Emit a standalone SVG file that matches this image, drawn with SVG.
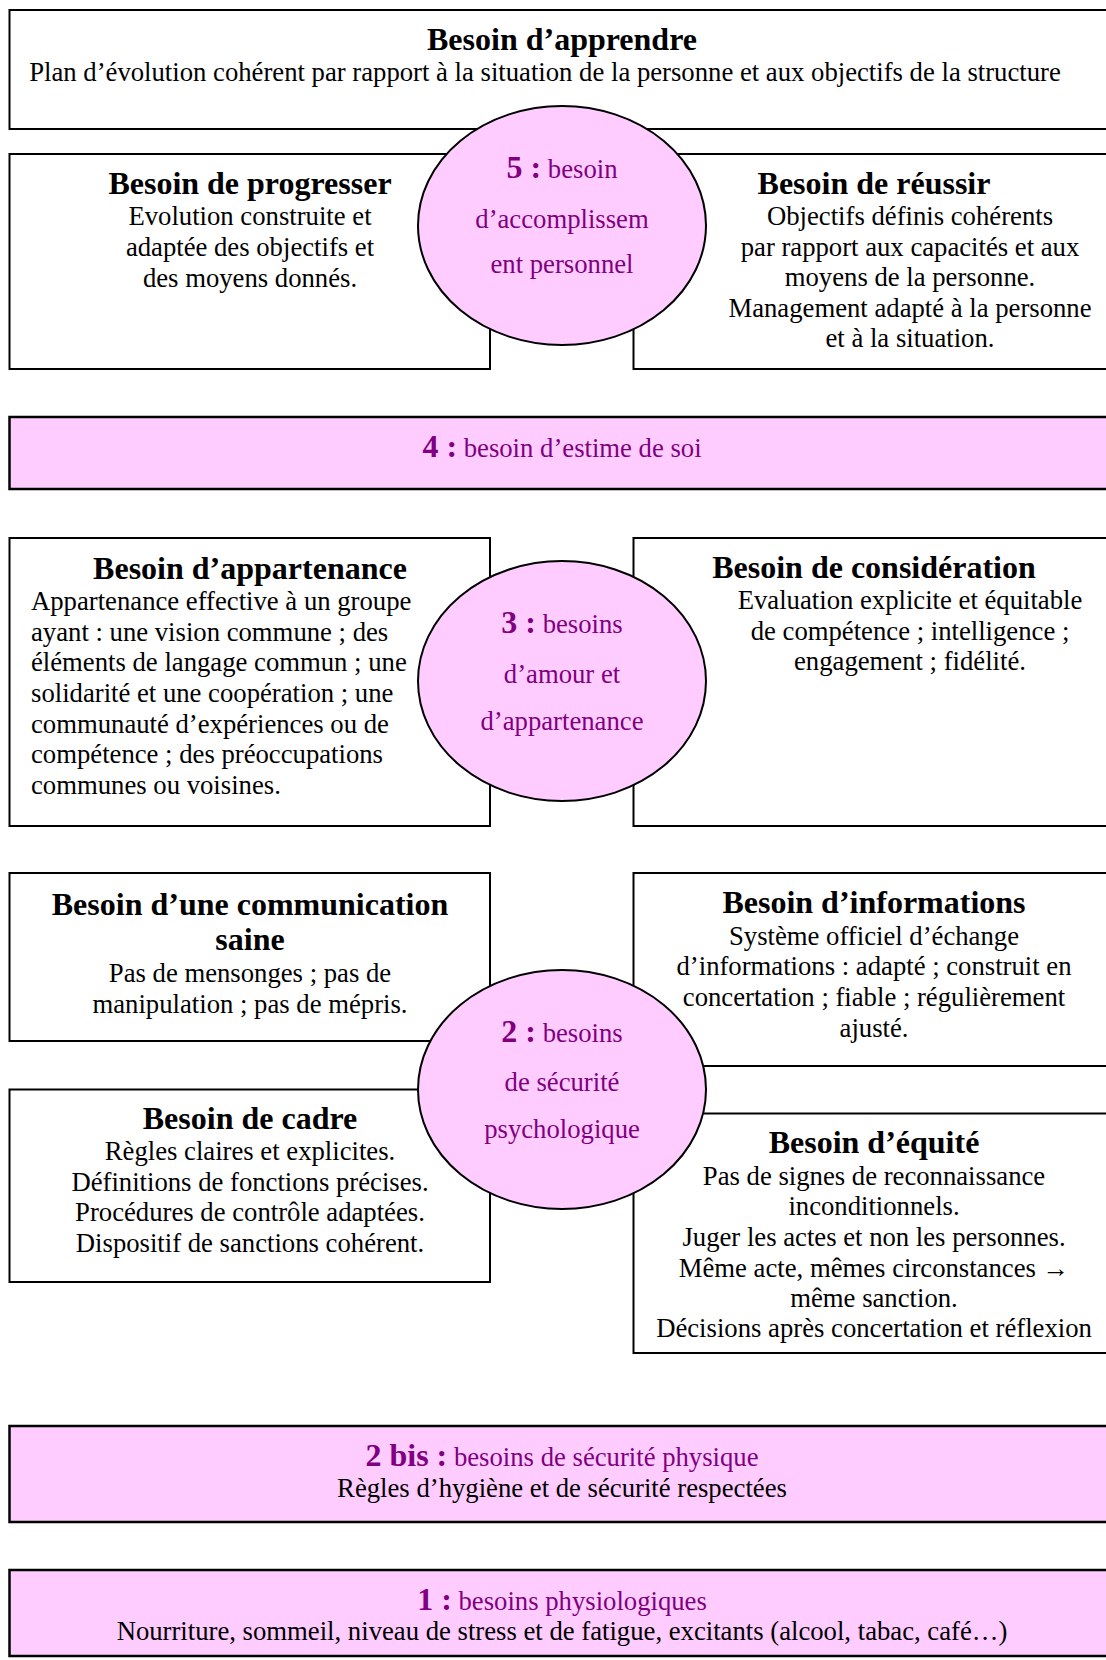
<svg xmlns="http://www.w3.org/2000/svg" width="1106" height="1660" viewBox="0 0 1106 1660">
<style>
text{font-family:"Liberation Serif","Times New Roman",serif;fill:#000}
.t{font-size:32px;font-weight:bold;text-anchor:middle}
.b{font-size:26.7px;text-anchor:middle}
.l{font-size:26.7px;text-anchor:start}
.p{fill:#800080}
.n{font-size:32px;font-weight:bold;fill:#800080}
.box{fill:#fff;stroke:#000;stroke-width:2}
.pbox{fill:#FFCCFF;stroke:#000;stroke-width:2.5}
.ell{fill:#FFCCFF;stroke:#000;stroke-width:2}
</style>
<rect width="1106" height="1660" fill="#fff"/>
<g id="apprendre">
<rect class="box" x="9.5" y="10" width="1110" height="119"/>
<text class="t" x="562" y="50">Besoin d’apprendre</text>
<text class="b" x="545" y="81">Plan d’évolution cohérent par rapport à la situation de la personne et aux objectifs de la structure</text>
</g>
<g id="progresser">
<rect class="box" x="9.5" y="154" width="480.5" height="215"/>
<text class="t" x="250" y="194">Besoin de progresser</text>
<text class="b" x="250" y="225">Evolution construite et</text>
<text class="b" x="250" y="256">adaptée des objectifs et</text>
<text class="b" x="250" y="287">des moyens donnés.</text>
</g>
<g id="reussir">
<rect class="box" x="633.5" y="154" width="490" height="215"/>
<text class="t" x="874" y="194">Besoin de réussir</text>
<text class="b" x="910" y="225">Objectifs définis cohérents</text>
<text class="b" x="910" y="255.5">par rapport aux capacités et aux</text>
<text class="b" x="910" y="286">moyens de la personne.</text>
<text class="b" x="910" y="316.5">Management adapté à la personne</text>
<text class="b" x="910" y="347">et à la situation.</text>
</g>
<g id="besoin5">
<ellipse class="ell" cx="562" cy="225.5" rx="144" ry="119.5"/>
<text class="b p" x="562" y="178"><tspan class="n">5 :</tspan> besoin</text>
<text class="b p" x="562" y="228">d’accomplissem</text>
<text class="b p" x="562" y="273">ent personnel</text>
</g>
<g id="besoin4">
<rect class="pbox" x="9.5" y="417" width="1110" height="72"/>
<text class="b p" x="562" y="457"><tspan class="n">4 :</tspan> besoin d’estime de soi</text>
</g>
<g id="appartenance">
<rect class="box" x="9.5" y="538" width="480.5" height="288"/>
<text class="t" x="250" y="579">Besoin d’appartenance</text>
<text class="l" x="31" y="610">Appartenance effective à un groupe</text>
<text class="l" x="31" y="640.7">ayant : une vision commune ; des</text>
<text class="l" x="31" y="671.4">éléments de langage commun ; une</text>
<text class="l" x="31" y="702">solidarité et une coopération ; une</text>
<text class="l" x="31" y="732.7">communauté d’expériences ou de</text>
<text class="l" x="31" y="763.4">compétence ; des préoccupations</text>
<text class="l" x="31" y="794">communes ou voisines.</text>
</g>
<g id="consideration">
<rect class="box" x="633.5" y="538" width="490" height="288"/>
<text class="t" x="874" y="578">Besoin de considération</text>
<text class="b" x="910" y="609">Evaluation explicite et équitable</text>
<text class="b" x="910" y="639.5">de compétence ; intelligence ;</text>
<text class="b" x="910" y="670">engagement ; fidélité.</text>
</g>
<g id="besoin3">
<ellipse class="ell" cx="562" cy="681" rx="144" ry="120"/>
<text class="b p" x="562" y="633"><tspan class="n">3 :</tspan> besoins</text>
<text class="b p" x="562" y="683">d’amour et</text>
<text class="b p" x="562" y="730">d’appartenance</text>
</g>
<g id="communication">
<rect class="box" x="9.5" y="873" width="480.5" height="168"/>
<text class="t" x="250" y="915">Besoin d’une communication</text>
<text class="t" x="250" y="950">saine</text>
<text class="b" x="250" y="982">Pas de mensonges ; pas de</text>
<text class="b" x="250" y="1013">manipulation ; pas de mépris.</text>
</g>
<g id="cadre">
<rect class="box" x="9.5" y="1089.5" width="480.5" height="192.5"/>
<text class="t" x="250" y="1129">Besoin de cadre</text>
<text class="b" x="250" y="1160">Règles claires et explicites.</text>
<text class="b" x="250" y="1190.5">Définitions de fonctions précises.</text>
<text class="b" x="250" y="1221">Procédures de contrôle adaptées.</text>
<text class="b" x="250" y="1252">Dispositif de sanctions cohérent.</text>
</g>
<g id="informations">
<rect class="box" x="633.5" y="873" width="490" height="193"/>
<text class="t" x="874" y="913">Besoin d’informations</text>
<text class="b" x="874" y="945">Système officiel d’échange</text>
<text class="b" x="874" y="975">d’informations : adapté ; construit en</text>
<text class="b" x="874" y="1005.5">concertation ; fiable ; régulièrement</text>
<text class="b" x="874" y="1037">ajusté.</text>
</g>
<g id="equite">
<rect class="box" x="633.5" y="1113.5" width="490" height="239.5"/>
<text class="t" x="874" y="1153">Besoin d’équité</text>
<text class="b" x="874" y="1185">Pas de signes de reconnaissance</text>
<text class="b" x="874" y="1215">inconditionnels.</text>
<text class="b" x="874" y="1246">Juger les actes et non les personnes.</text>
<text class="b" x="874" y="1277">Même acte, mêmes circonstances <tspan font-weight="bold">→</tspan></text>
<text class="b" x="874" y="1307">même sanction.</text>
<text class="b" x="874" y="1337">Décisions après concertation et réflexion</text>
</g>
<g id="besoin2">
<ellipse class="ell" cx="562" cy="1089.5" rx="144" ry="119.5"/>
<text class="b p" x="562" y="1042"><tspan class="n">2 :</tspan> besoins</text>
<text class="b p" x="562" y="1091">de sécurité</text>
<text class="b p" x="562" y="1138">psychologique</text>
</g>
<g id="besoin2bis">
<rect class="pbox" x="9.5" y="1426" width="1110" height="96"/>
<text class="b p" x="562" y="1466"><tspan class="n">2 bis :</tspan> besoins de sécurité physique</text>
<text class="b" x="562" y="1497">Règles d’hygiène et de sécurité respectées</text>
</g>
<g id="besoin1">
<rect class="pbox" x="9.5" y="1570" width="1110" height="86"/>
<text class="b p" x="562" y="1610"><tspan class="n">1 :</tspan> besoins physiologiques</text>
<text class="b" x="562" y="1640">Nourriture, sommeil, niveau de stress et de fatigue, excitants (alcool, tabac, café…)</text>
</g>
<g id="connectors"/>
</svg>
